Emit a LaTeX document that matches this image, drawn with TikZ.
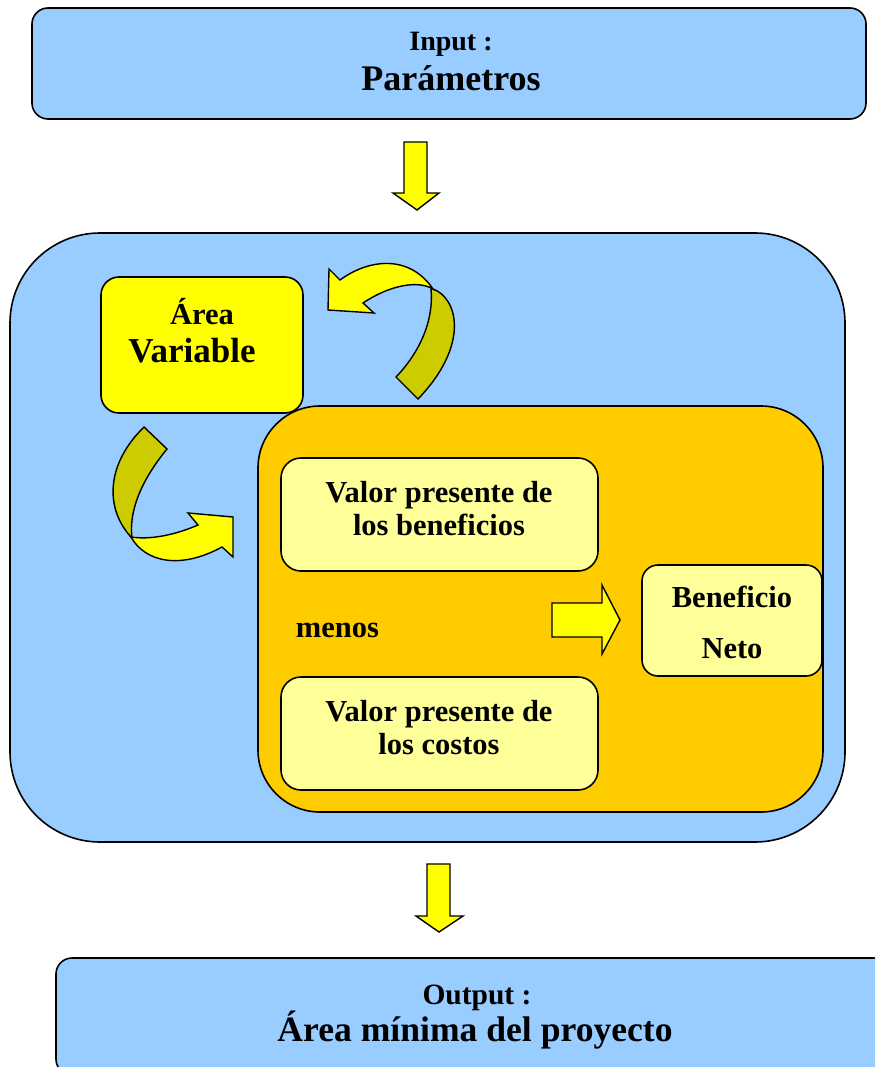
\documentclass[tikz,border=0pt]{standalone}
\usepackage{fontspec}
\setmainfont{Liberation Serif}
\definecolor{skyb}{HTML}{99CCFF}
\definecolor{yel}{HTML}{FFFF00}
\definecolor{orng}{HTML}{FFCC00}
\definecolor{ltyel}{HTML}{FFFF99}
\definecolor{oliv}{HTML}{CCCC00}
\tikzset{
  box/.style={draw=black, line width=1.6pt, inner sep=0pt},
  blockarrow/.style={draw=black, line width=1.4pt, line join=miter},
  txt/.style={anchor=base, inner sep=0pt, font=\bfseries},
}
\newcommand{\fsz}[1]{\fontsize{#1}{#1}\selectfont}
\begin{document}
\begin{tikzpicture}[x=1pt,y=-1pt]
\clip (0,0) rectangle (875,1067);
\fill[white] (0,0) rectangle (875,1067);

% Input
\node[box, fill=skyb, rounded corners=16pt, minimum width=834pt, minimum height=111pt] (inbox) at (449,63.5) {};
\node[txt] (intxt1) at (451,51) {\fsz{28}Input :};
\node[txt] (intxt2) at (451,91) {\fsz{36}Parámetros};

% down arrow 1
\draw[blockarrow, fill=yel] (404,142) -- (427,142) -- (427,193) -- (439,193) -- (417,210) -- (393,193) -- (404,193) -- cycle;

% big blue box
\node[box, fill=skyb, rounded corners=90pt, minimum width=835pt, minimum height=609pt] (main) at (427.5,537.5) {};

% Area variable
\node[box, fill=yel, rounded corners=18pt, minimum width=202pt, minimum height=136pt] (var) at (202,345) {};
\node[txt] (vartxt1) at (202,324) {\fsz{30.5}Área};
\node[txt] (vartxt2) at (192,362) {\fsz{35}Variable};

% orange box
\node[box, fill=orng, rounded corners=62pt, minimum width=565pt, minimum height=406pt] (calc) at (540.5,609) {};

% top curved arrow
\draw[blockarrow, fill=oliv] (433,289) .. controls (458,298) and (470,345) .. (418,399) -- (396,377) .. controls (420,352) and (434,320) .. (431,289) -- cycle;
\draw[blockarrow, fill=yel] (433,289) .. controls (410,255) and (370,258) .. (340,280) -- (329,269) -- (328,310) -- (374,313) -- (363,303) .. controls (390,285) and (418,280) .. (433,289) -- cycle;

% bottom-left curved arrow
\draw[blockarrow, fill=oliv] (144,427) -- (167,449) .. controls (148,472) and (128,505) .. (132,538) .. controls (105,510) and (105,465) .. (144,427) -- cycle;
\draw[blockarrow, fill=yel] (131,537) .. controls (145,562) and (180,570) .. (222,547) -- (233,557) -- (233,517) -- (188,513) -- (198,525) .. controls (175,535) and (150,540) .. (131,537) -- cycle;

% beneficios
\node[box, fill=ltyel, rounded corners=20pt, minimum width=317pt, minimum height=113pt] (ben) at (439.5,514.5) {};
\node[txt] (bentxt1) at (439,502) {\fsz{30.5}Valor presente de};
\node[txt] (bentxt2) at (439,535) {\fsz{30.5}los beneficios};

% costos
\node[box, fill=ltyel, rounded corners=20pt, minimum width=317pt, minimum height=113pt] (cost) at (439.5,733.5) {};
\node[txt] (costtxt1) at (439,721) {\fsz{30.5}Valor presente de};
\node[txt] (costtxt2) at (439,754) {\fsz{30.5}los costos};

% menos
\node[txt] (menos) at (337.5,637) {\fsz{30.5}menos};

% right arrow
\draw[blockarrow, fill=yel] (552,603) -- (602,603) -- (602,585) -- (620,620) -- (602,654) -- (602,637) -- (552,637) -- cycle;

% beneficio neto
\node[box, fill=ltyel, rounded corners=16pt, minimum width=180pt, minimum height=111pt] (neto) at (732,620.5) {};
\node[txt] (netotxt1) at (732,607) {\fsz{30.5}Beneficio};
\node[txt] (netotxt2) at (732,658) {\fsz{30.5}Neto};

% down arrow 2
\draw[blockarrow, fill=yel] (427,864) -- (450,864) -- (450,916) -- (463,916) -- (439,932) -- (416,916) -- (427,916) -- cycle;

% output
\node[box, fill=skyb, rounded corners=16pt, minimum width=834pt, minimum height=117pt] (outbox) at (473,1016.5) {};
\node[txt] (outtxt1) at (477,1004) {\fsz{29.5}Output :};
\node[txt] (outtxt2) at (475,1041) {\fsz{35.6}Área mínima del proyecto};
\end{tikzpicture}
\end{document}
